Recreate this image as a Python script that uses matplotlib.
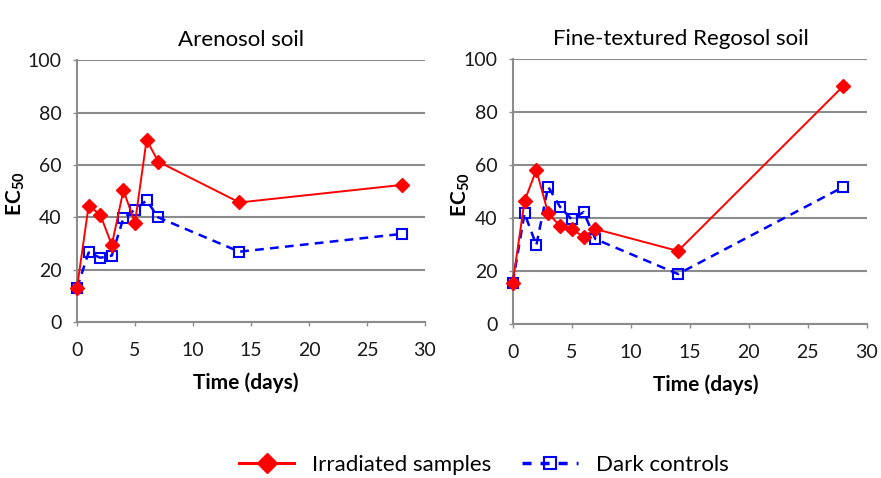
import matplotlib
matplotlib.use('Agg')
import matplotlib.pyplot as plt
from matplotlib.lines import Line2D

plt.rcParams['font.family'] = ['Lato', 'DejaVu Sans']
plt.rcParams['mathtext.fontset'] = 'custom'
plt.rcParams['mathtext.rm'] = 'Lato'
plt.rcParams['mathtext.bf'] = 'Lato:bold'

# 取样时间 (天)
days = [0, 1, 2, 3, 4, 5, 6, 7, 14, 28]

# Arenosol
aren_irr = [13.1, 44.4, 41.1, 29.5, 50.3, 38.0, 69.6, 61.3, 45.7, 52.4]
aren_dark = [13.0, 26.6, 24.6, 25.4, 39.7, 42.9, 46.5, 40.0, 26.9, 33.7]

# Regosol
rego_irr = [15.6, 46.5, 58.2, 41.8, 37.1, 35.8, 33.0, 35.9, 27.6, 89.9]
rego_dark = [15.6, 41.8, 29.8, 51.9, 44.3, 39.5, 42.3, 32.1, 18.9, 51.8]

titles = ['Arenosol soil', 'Fine-textured Regosol soil']
xticks = [0, 5, 10, 15, 20, 25, 30]
yticks = [0, 20, 40, 60, 80, 100]

grey = '#8c8c8c'
red = '#ff0000'
blue = '#0000ff'

fig = plt.figure(figsize=(8.81, 4.78), dpi=100)
ax1 = fig.add_axes([0.0874, 0.326, 0.395, 0.548])
ax2 = fig.add_axes([0.582, 0.322, 0.402, 0.554])

# 标题/坐标轴标签的位置 (轴坐标)
layout = {ax1: dict(tx=0.47, xx=0.486, yx=-0.144),
          ax2: dict(tx=0.475, xx=0.545, yx=-0.116)}

for ax, irr, dark, title in [(ax1, aren_irr, aren_dark, titles[0]),
                             (ax2, rego_irr, rego_dark, titles[1])]:
    ax.plot(days, dark, color=blue, lw=1.8, ls=(0, (3.5, 2.5)),
            marker='s', ms=7.5, mfc='none', mec=blue, mew=1.5, zorder=3, clip_on=False)
    ax.plot(days, irr, color=red, lw=1.4, marker='D', ms=7, mfc=red, mec=red,
            zorder=4, clip_on=False)

    ax.set_xlim(0, 30)
    ax.set_ylim(0, 100)
    ax.set_xticks(xticks)
    ax.set_yticks(yticks)
    ax.grid(axis='y', color=grey, lw=1.5)
    ax.set_axisbelow(True)
    for s in ['top', 'right']:
        ax.spines[s].set_visible(False)
    for s in ['left', 'bottom']:
        ax.spines[s].set_color(grey)
        ax.spines[s].set_linewidth(1.5)
    ax.tick_params(axis='both', length=3, width=1, color=grey, labelsize=14)
    ax.tick_params(axis='x', pad=11)
    ax.tick_params(axis='y', pad=8)
    ax.set_title(title, fontsize=16, pad=10, x=layout[ax]['tx'])
    ax.set_xlabel('Time (days)', fontsize=15, fontweight='bold', labelpad=10,
                  x=layout[ax]['xx'])
    ax.set_ylabel('$\\mathbf{EC}_{\\mathbf{50}}$', fontsize=15)
    ax.yaxis.set_label_coords(layout[ax]['yx'], 0.49)
    for t in ax.get_xticklabels() + ax.get_yticklabels():
        t.set_color('#1a1a1a')
    ax.patch.set_alpha(0)

# 图例
handles = [
    Line2D([], [], color=red, lw=2.2, marker='D', ms=10, mfc=red, mec=red),
    Line2D([], [], color=blue, lw=2.5, ls=(0, (2.6, 2.6)), marker='s', ms=8,
           mfc='none', mec=blue, mew=1.5),
]
fig.legend(handles, ['Irradiated samples', 'Dark controls'], loc='center',
           bbox_to_anchor=(0.549, 0.027), ncol=2, frameon=False, fontsize=16,
           handlelength=2.5, handletextpad=0.8, columnspacing=1.4)

fig.savefig('out.png', dpi=100)
